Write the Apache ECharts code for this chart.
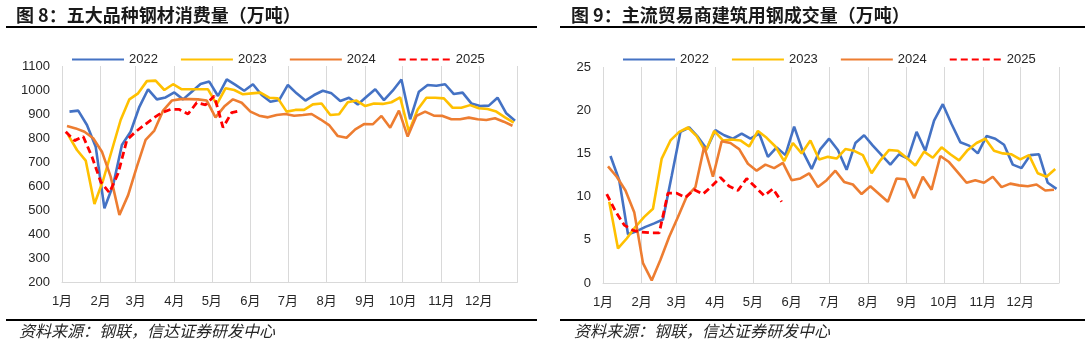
<!DOCTYPE html>
<html><head><meta charset="utf-8">
<script src="https://cdn.jsdelivr.net/npm/echarts@6/dist/echarts.min.js"></script>
<style>html,body{margin:0;padding:0;background:#fff}#c{width:1088px;height:345px}</style>
</head><body><div id="c"></div>
<script>
// ---- data ----
const monthLabels = ['1月','2月','3月','4月','5月','6月','7月','8月','9月','10月','11月','12月'];
const monthStartDays = [0,31,59,90,120,151,181,212,243,273,304,334,365];
const seriesNames = ['2022','2023','2024','2025'];
const seriesColors = ['#4472C4','#FFC000','#ED7D31','#FF0000'];
const firstWeekDay = [6,5,4,3]; // day-of-year of each year's first weekly observation

// 五大品种钢材消费量（万吨）
const steel2022 = [910,914,854,764,507,604,771,826,930,1003,961,969,990,961,993,1025,1035,975,1044,1021,997,1024,979,951,958,1021,
  986,956,979,997,986,954,968,940,972,1003,958,997,1044,878,993,1021,1018,1024,983,989,944,933,935,968,903,872];
const steel2023 = [812,750,706,525,625,750,875,961,986,1037,1039,1000,1024,1003,1003,1003,1003,940,1007,1000,982,986,989,968,965,910,
  917,917,940,944,896,899,949,956,933,944,942,949,969,826,919,968,968,965,926,926,937,924,921,910,886,864];
const steel2024 = [850,840,826,799,743,639,479,562,681,792,831,914,956,962,962,961,956,886,931,961,947,910,893,886,896,900,
  893,896,900,878,854,808,801,836,858,857,892,843,914,806,892,910,893,892,878,878,885,878,875,882,868,851];
const steel2025 = [826,789,806,722,618,572,653,792,826,854,882,906,919,919,900,947,938,975,844,906,914];

// 主流贸易商建筑用钢成交量（万吨）
const trade2022 = [14.7,11.9,5.65,6.0,6.5,6.9,7.35,12.4,17.5,18.0,16.9,15.5,17.7,17.1,16.7,17.3,16.7,17.3,14.6,15.7,14.8,18.1,15.2,13.2,15.5,16.7,
  15.4,13.1,16.2,17.1,15.9,14.8,13.7,14.9,14.4,17.5,15.3,18.8,20.7,18.4,16.3,15.9,15.0,17.0,16.7,16.0,13.7,13.3,14.8,14.9,11.6,10.9];
const trade2023 = [9.4,4.0,5.15,6.5,7.65,8.6,14.4,16.5,17.5,18.0,17.0,15.2,17.6,16.5,16.6,16.5,15.8,17.6,16.8,15.8,14.1,16.2,15.0,16.5,14.3,14.6,
  14.4,15.5,15.3,14.8,12.7,14.2,15.4,15.3,14.5,13.6,15.2,14.5,15.7,14.9,14.2,15.4,16.2,16.7,15.3,15.0,14.9,14.3,14.8,12.7,12.3,13.2];
const trade2024 = [13.5,12.3,10.7,8.2,2.3,0.3,2.7,5.35,7.65,10.0,11.1,15.8,12.3,16.4,16.2,15.5,13.8,13.0,13.7,13.3,13.9,11.9,12.1,12.7,11.1,11.9,
  13.0,11.7,11.4,10.3,11.2,10.3,9.4,12.1,12.0,9.8,12.3,10.8,14.7,14.0,12.8,11.6,11.9,11.6,12.3,11.1,11.5,11.3,11.2,11.4,10.7,10.8];
const trade2025 = [10.3,8.3,6.7,6.1,5.9,5.8,5.8,10.4,10.4,9.9,10.8,10.3,11.2,12.2,11.2,10.7,12.1,11.1,10.1,10.9,9.4];

const leftValues = [steel2022, steel2023, steel2024, steel2025];
const rightValues = [trade2022, trade2023, trade2024, trade2025];
const leftYTicks = {min:200, max:1100, interval:100};
const rightYTicks = {min:0, max:25, interval:5};

// ---- chart ----
const FONT = '"Liberation Sans", Arial, "Noto Sans CJK SC", sans-serif';
const CJK = '"Noto Sans CJK SC", sans-serif';

function toPairs(vals, start){ return vals.map((v,i)=>[start + 7*i, v]); }

function makeX(gi){
  return {
    type:'value', gridIndex:gi, min:0, max:365,
    axisLine:{show:true, lineStyle:{color:'#d9d9d9', width:1}},
    axisTick:{show:false, customValues: monthStartDays},
    splitLine:{show:true, lineStyle:{color:'#d9d9d9', width:1}},
    axisLabel:{
      customValues: monthStartDays.slice(0,12),
      formatter: v => monthLabels[monthStartDays.indexOf(v)] || '',
      color:'#262626', fontSize:13, fontFamily:FONT, margin:13
    }
  };
}
function makeY(gi, t){
  return {
    type:'value', gridIndex:gi, min:t.min, max:t.max, interval:t.interval,
    axisLine:{show:false}, axisTick:{show:false}, splitLine:{show:false},
    axisLabel:{color:'#262626', fontSize:13, fontFamily:FONT, margin:12, formatter: v => String(v)}
  };
}

const series = [];
[leftValues, rightValues].forEach((group, gi)=>{
  group.forEach((vals, si)=>{
    series.push({
      name: seriesNames[si], type:'line', xAxisIndex:gi, yAxisIndex:gi,
      data: toPairs(vals, firstWeekDay[si]),
      symbol:'none', showSymbol:false, smooth:false,
      lineStyle:{color:seriesColors[si], width: si===3 ? 2.8 : 2.6, type: si===3 ? [7,4] : 'solid'},
      itemStyle:{color:seriesColors[si]},
      emphasis:{disabled:true}
    });
  });
});

function makeLegend(left){
  return {
    left:left, top:48, itemWidth:52, itemHeight:14, itemGap:22,
    data: seriesNames,
    itemStyle:{color:'rgba(0,0,0,0)', borderColor:'rgba(0,0,0,0)', borderWidth:0, opacity:0},
    textStyle:{color:'#262626', fontSize:13, fontFamily:FONT}
  };
}

const chart = echarts.init(document.getElementById('c'), null, {renderer:'canvas'});
chart.setOption({
  animation:false,
  backgroundColor:'#fff',
  title:[
    {text:'图 8：五大品种钢材消费量（万吨）', left:16, top:6, padding:0,
     textStyle:{fontSize:18, fontWeight:'bold', color:'#1a1a1a', fontFamily:CJK}},
    {text:'图 9：主流贸易商建筑用钢成交量（万吨）', left:571, top:6, padding:0,
     textStyle:{fontSize:18, fontWeight:'bold', color:'#1a1a1a', fontFamily:CJK}}
  ],
  legend:[makeLegend(66), makeLegend(617)],
  grid:[
    {left:62, top:66, width:455.5, height:216, containLabel:false},
    {left:603, top:67, width:456, height:216, containLabel:false}
  ],
  xAxis:[makeX(0), makeX(1)],
  yAxis:[makeY(0, leftYTicks), makeY(1, rightYTicks)],
  series: series,
  graphic:[
    {type:'line', shape:{x1:6, y1:27, x2:537, y2:27}, style:{stroke:'#000', lineWidth:2}},
    {type:'line', shape:{x1:560, y1:27, x2:1085, y2:27}, style:{stroke:'#000', lineWidth:2}},
    {type:'line', shape:{x1:6, y1:320, x2:537, y2:320}, style:{stroke:'#000', lineWidth:2}},
    {type:'line', shape:{x1:560, y1:320, x2:1085, y2:320}, style:{stroke:'#000', lineWidth:2}},
    {type:'text', left:19, top:323, style:{text:'资料来源：钢联，信达证券研发中心', fontSize:16, fontStyle:'italic', fill:'#262626', fontFamily:CJK}},
    {type:'text', left:574, top:323, style:{text:'资料来源：钢联，信达证券研发中心', fontSize:16, fontStyle:'italic', fill:'#262626', fontFamily:CJK}}
  ]
});
</script></body></html>
